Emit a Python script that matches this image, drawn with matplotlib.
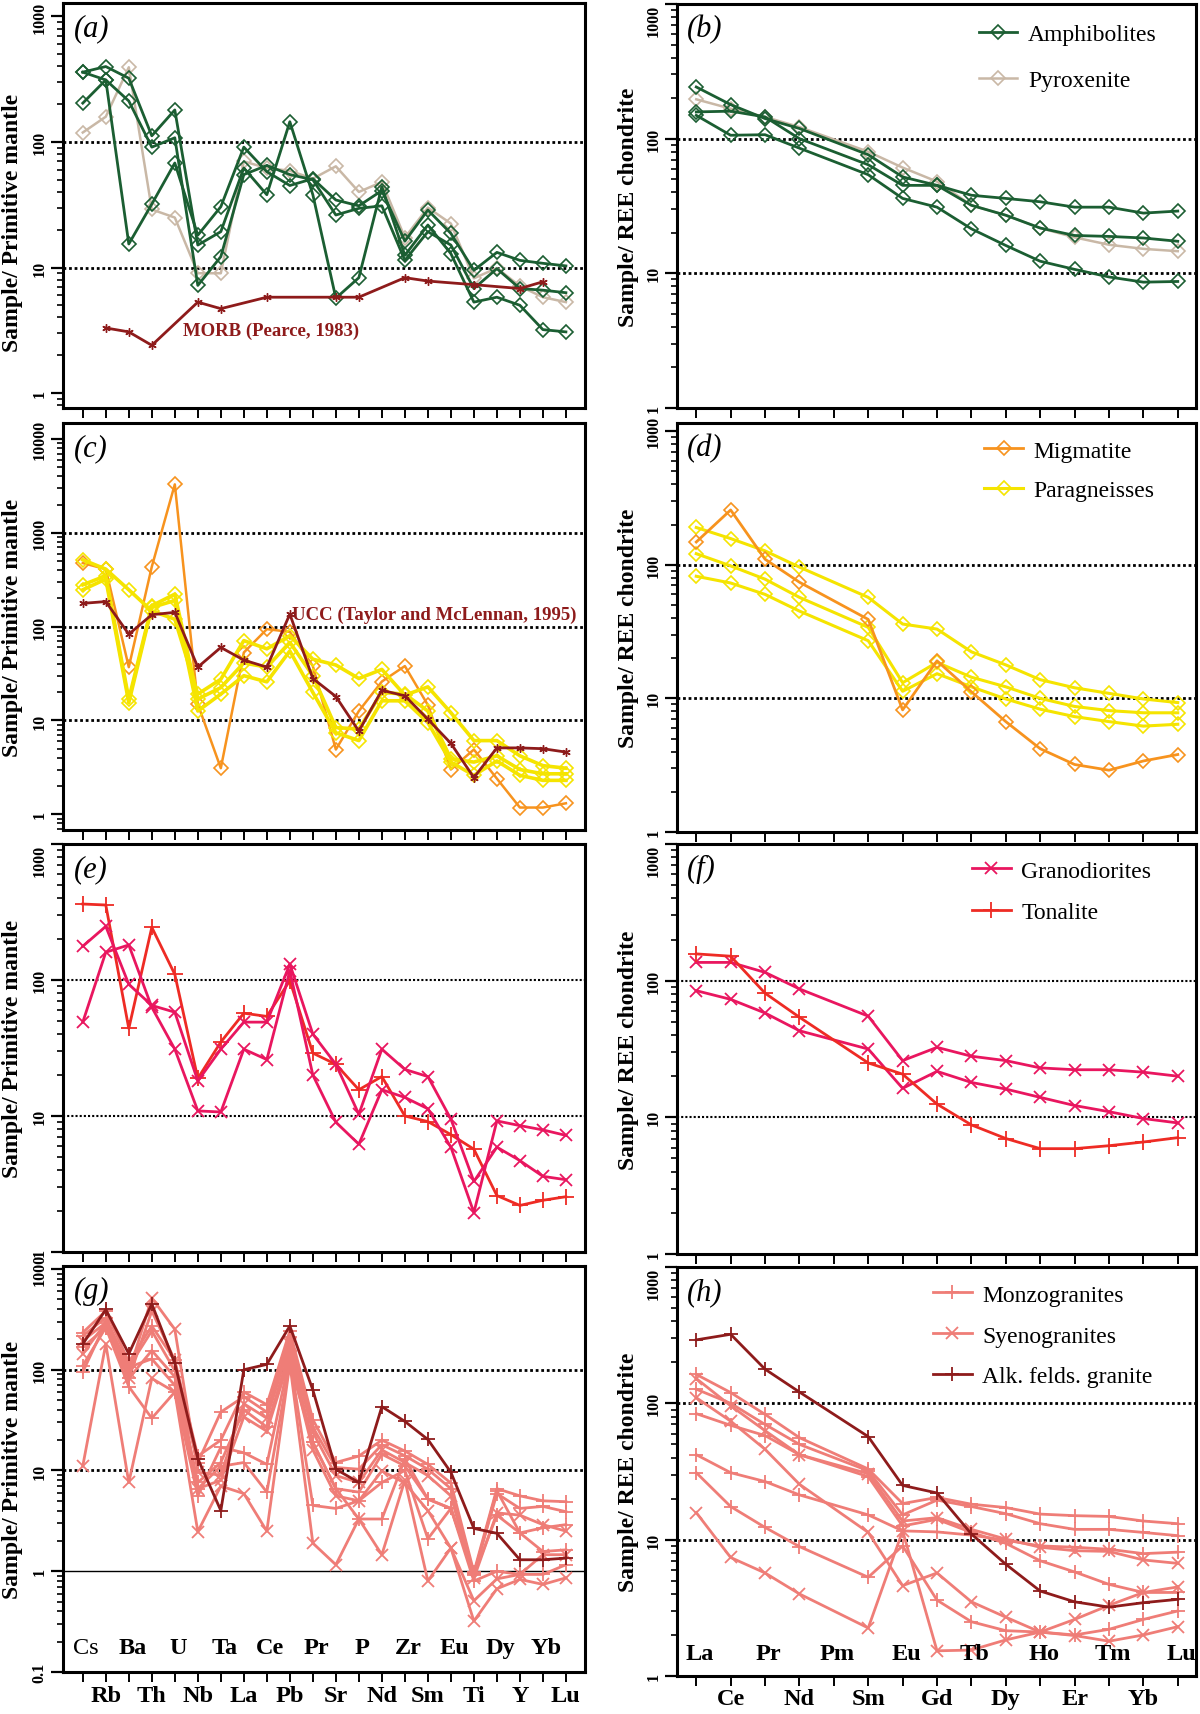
import numpy as np
import matplotlib
matplotlib.use('Agg')
import matplotlib.pyplot as plt
from matplotlib.ticker import FixedLocator, LogLocator, NullFormatter, FuncFormatter
from matplotlib.transforms import blended_transform_factory

plt.rcParams['font.family'] = ['Liberation Serif', 'DejaVu Serif']

nan = np.nan

# element order on the x axes
TE = ['Cs', 'Rb', 'Ba', 'Th', 'U', 'Nb', 'Ta', 'La', 'Ce', 'Pb', 'Pr', 'Sr', 'P',
      'Nd', 'Zr', 'Sm', 'Eu', 'Ti', 'Dy', 'Y', 'Yb', 'Lu']
REE = ['La', 'Ce', 'Pr', 'Nd', 'Pm', 'Sm', 'Eu', 'Gd', 'Tb', 'Dy', 'Ho', 'Er', 'Tm', 'Yb', 'Lu']

# (a) primitive mantle normalised - amphibolites / pyroxenite
amph_te = [
    [360, 399, 322, 112, 180, 15.1, 19.3, 62, 38, 145, 38, 5.7, 8.3, 44, 12.5, 21.8, 12.9, 5.3, 5.8, 5.0, 3.2, 3.07],
    [360, 312, 15.4, 32, 68, 18.1, 30.5, 91, 58, 45, 51, 34.5, 31, 41, 16.2, 28.7, 18.7, 9.5, 13.2, 11.4, 10.8, 10.3],
    [204, 312, 212, 91, 108, 7.2, 12.2, 55, 65, 55, 50, 26.2, 29.6, 31, 11.4, 19.3, 15.1, 6.8, 9.8, 6.8, 6.6, 6.3],
]
pyrox_te = [119, 159, 394, 29, 25, 9.0, 9.0, 70, 62, 59, 51, 64, 40, 48, 17.3, 30, 22.4, 8.2, 9.9, 7.1, 5.8, 5.3]
morb_te = [nan, 3.3, 3.07, 2.4, nan, 5.3, 4.7, nan, 5.8, nan, nan, 5.8, 5.8, nan, 8.3, 7.8, nan, 7.3, nan, 6.8, 7.7, nan]

# (b) chondrite normalised REE - amphibolites / pyroxenite
amph_ree = [
    [242, 179, 141, 119, nan, 76, 52, 45, 32, 27, 21.7, 19.1, 18.8, 18.3, 17.3],
    [158, 160, 145, 100, nan, 64, 45, 45, 38, 36, 34, 31, 31, 28, 29],
    [149, 106, 107, 85, nan, 54, 36, 31, 21.4, 16.1, 12.3, 10.7, 9.4, 8.6, 8.7],
]
pyrox_ree = [196, 167, 145, 122, nan, 80, 61, 48, 32, 27, 21.7, 18.5, 16.3, 15.2, 14.6]

# (c) migmatite / paragneisses / UCC
migm_te = [476, 410, 37, 435, 3282, 14.9, 3.1, 53, 94, 88, 38, 4.9, 12.6, 26, 38, 14.6, 3.0, 4.9, 2.4, 1.18, 1.18, 1.31]
para_te = [
    [516, 410, 247, 147, 120, 19.1, 27.5, 71, 58, 80, 45, 39, 28, 35, 18.6, 22.8, 12.1, 6.1, 6.1, 4.2, 3.3, 3.1],
    [279, 348, 16.9, 167, 222, 16.9, 22.4, 41, 37, 68, 30, 8.4, 8.1, 19.9, 19.1, 12.6, 3.9, 3.6, 4.2, 3.0, 2.7, 2.7],
    [247, 321, 15.5, 160, 190, 12.6, 19.1, 30, 25.8, 55, 19.9, 7.4, 6.1, 16.2, 16.2, 9.5, 3.6, 2.6, 3.7, 2.6, 2.3, 2.3],
]
ucc_te = [177, 185, 83, 134, 142, 37, 60, 44, 37, 136, 28, 18, 7.7, 21, 18.3, 10.3, 5.7, 2.46, 5.1, 5.1, 5.0, 4.6]

# (d)
migm_ree = [148, 257, 110, 74, nan, 39, 8.2, 19.1, 11.2, 6.7, 4.2, 3.2, 2.9, 3.4, 3.8]
para_ree = [
    [190, 157, 127, 96, nan, 57, 36, 33, 22.3, 17.8, 13.8, 12, 10.9, 9.9, 9.3],
    [121, 98, 78, 57, nan, 34, 13.1, 18.6, 14.4, 12.2, 10, 8.7, 8.1, 7.8, 7.8],
    [82, 73, 60, 45, nan, 27, 11.3, 15.3, 12.2, 9.9, 8.3, 7.3, 6.7, 6.2, 6.4],
]

# (e) granodiorites / tonalite
grano_te = [
    [177, 248, 93, 65, 58, 18.1, 31, 49, 49, 131, 40, 24, 10.3, 31, 22, 19.5, 9.5, 3.3, 5.9, 4.7, 3.6, 3.4],
    [49, 160, 181, 63, 31, 10.9, 10.7, 31, 26, 117, 20, 9.0, 6.2, 15.6, 13.7, 11.3, 5.9, 1.95, 9.2, 8.5, 7.9, 7.2],
]
tonal_te = [362, 356, 44, 244, 110, 18.9, 35, 57, 54, 99, 29, 24, 15.6, 19.5, 10, 9.1, 7.3, 5.7, 2.6, 2.2, 2.4, 2.55]

# (f)
grano_ree = [
    [136, 136, 115, 87, nan, 55, 26, 32.5, 28, 26, 23, 22.3, 22.3, 21.4, 20],
    [84.5, 73, 58, 43, nan, 31.6, 16.3, 21.7, 18, 16.1, 14, 12.2, 11, 9.8, 9.1],
]
tonal_ree = [157, 151, 81, 54, nan, 25, 20.7, 12.5, 8.8, 7.0, 5.9, 5.9, 6.2, 6.6, 7.1]

# (g) monzogranites / syenogranites / alkali-feldspar granite
monzo_te = [
    [234, 382, 119, 272, 124, 13.9, 20, 60, 45, 243, 32, 12, 13.9, 20, 15.6, 11.5, 7.5, 0.98, 6.6, 5.6, 5.0, 4.9],
    [217, 328, 106, 243, 98, 12, 38, 54, 38, 209, 27, 10.7, 10.3, 18, 14, 10.3, 6.6, 0.92, 5.9, 4.2, 4.4, 3.9],
    [167, 262, 82, 155, 85, 7.6, 12, 40, 27, 155, 19, 6.6, 6.1, 14.5, 11.1, 5.2, 4.2, 0.93, 3.6, 2.4, 2.7, 2.9],
    [110, 262, 68, 33, 60, 5.6, 17, 15, 11.5, 133, 4.5, 4.2, 5.0, 7.6, 10, 2.1, 4.2, 0.8, 1.0, 0.93, 0.93, 1.16],
    [95, 293, 106, 128, 70, 6.6, 11, 12, 6.1, 115, 19, 6.6, 3.3, 3.3, 13, 5.2, 4.2, 0.93, 6.3, 2.4, 1.57, 1.63],
]
syeno_te = [
    [194, 293, 94, 515, 252, 9.6, 9, 46, 33, 180, 24, 8.9, 7.6, 16, 12, 8.9, 5.6, 0.85, 3.8, 3.6, 2.9, 2.5],
    [144, 293, 82, 382, 124, 6.6, 8, 34, 24.5, 133, 16, 5.6, 5.0, 9.9, 7.5, 4.0, 1.7, 0.51, 0.84, 0.93, 1.46, 1.46],
    [11.1, 180, 7.6, 82, 60, 2.47, 7, 5.9, 2.5, 115, 1.9, 1.16, 3.3, 1.46, 8.0, 0.80, 1.7, 0.32, 0.67, 0.83, 0.74, 0.86],
]
alk_te = [180, 396, 144, 450, 116, 13.1, 4.0, 100, 113, 272, 63, 10.3, 7.6, 43, 30.7, 20.3, 9.6, 2.66, 2.38, 1.30, 1.30, 1.35]

# (h)
monzo_ree = [
    [163, 120, 83, 56, nan, 33, 18.4, 20.4, 18.2, 17.2, 15.4, 15, 14.8, 13.7, 13.1],
    [127, 100, 70, 50, nan, 32, 15.2, 19.5, 17.5, 15.5, 13.1, 11.9, 11.9, 11.3, 10.7],
    [84, 69, 58, 42, nan, 29, 12.6, 14.1, 11.3, 9.4, 7.0, 5.8, 4.7, 4.1, 4.1],
    [42, 31, 26.7, 21.3, nan, 15.2, 11.6, 11.4, 10.8, 9.9, 9.0, 8.8, 8.5, 7.9, 8.1],
    [31, 17.5, 12.3, 8.9, nan, 5.3, 9.0, 3.6, 2.5, 2.15, 2.1, 2.0, 2.2, 2.6, 3.0],
]
syeno_ree = [
    [152, 96, 63, 42, nan, 30.5, 13.7, 14.5, 11.9, 10.1, 8.8, 8.3, 8.2, 7.1, 6.7],
    [110, 74, 46, 25.5, nan, 11.3, 4.6, 5.7, 3.5, 2.7, 2.1, 2.6, 3.3, 4.1, 4.5],
    [15.8, 7.4, 5.7, 4.0, nan, 2.25, 11.6, 1.53, 1.55, 1.84, 2.1, 1.98, 1.8, 2.0, 2.3],
]
alk_ree = [292, 321, 178, 121, nan, 57, 25, 22, 11.0, 6.6, 4.2, 3.5, 3.2, 3.45, 3.65]

GREEN = '#1b5e32'
BEIGE = '#c9b8a6'
DARKRED = '#8e1b1b'
ORANGE = '#f7931e'
YELLOW = '#f5e400'
PINK = '#e9165f'
RED = '#ee2b24'
CORAL = '#ef7d77'

W, H = 1200, 1715
fig = plt.figure(figsize=(W / 100, H / 100), dpi=100)


def box(x0, y0, x1, y1):
    return [x0 / W, 1 - y1 / H, (x1 - x0) / W, (y1 - y0) / H]


def draw(ax, y, **kw):
    y = np.asarray(y, float)
    x = np.arange(len(y))
    m = ~np.isnan(y)
    return ax.plot(x[m], y[m], **kw)[0]


def setup(ax, nx, xlim, ylim, yticks, dotted, dot_lw=2.0, ylabel='', label_x=-0.077,
          label_y=0.5, top_down=False):
    ax.set_yscale('log')
    ax.set_xlim(*xlim)
    ax.set_ylim(*ylim)
    ax.set_xticks(range(nx))
    ax.set_xticklabels([])
    ax.yaxis.set_major_locator(FixedLocator(yticks))
    ax.yaxis.set_major_formatter(FuncFormatter(lambda v, p: '%g' % v))
    ax.yaxis.set_minor_locator(LogLocator(base=10, subs=np.arange(2, 10)))
    ax.yaxis.set_minor_formatter(NullFormatter())
    ax.tick_params(axis='x', which='major', direction='out', length=7.5, width=1.4)
    ax.tick_params(axis='y', which='major', direction='out', length=9, width=1.6,
                   labelsize=11.5, pad=2, labelrotation=90)
    ax.tick_params(axis='y', which='minor', direction='out', length=4.5, width=1.2)
    labs = ax.get_yticklabels()
    for lab in labs:
        lab.set_va('center')
        lab.set_fontweight('bold')
    if top_down:
        # top label pushed inside the axes height, as in the original
        labs[-1].set_va('top')
    for s in ax.spines.values():
        s.set_linewidth(2.2)
    for v in dotted:
        ax.axhline(v, color='black', ls=(0, (1, 1)), lw=dot_lw, zorder=1)
    ax.set_ylabel(ylabel, fontsize=17, fontweight='bold')
    ax.yaxis.set_label_coords(label_x, label_y)


def letter(ax, s):
    ax.text(0.02, 0.94, s, transform=ax.transAxes, fontsize=22, style='italic',
            ha='left', va='center')


LX = (-0.86, 21.83)
RX = (-0.56, 14.53)
PM = 'Sample/ Primitive mantle'
CH = 'Sample/ REE chondrite'
RLX = -0.073

axa = fig.add_axes(box(63, 4, 585, 409))
axb = fig.add_axes(box(677, 5, 1196, 409))
axc = fig.add_axes(box(63, 424, 585, 831))
axd = fig.add_axes(box(677, 424, 1196, 833))
axe = fig.add_axes(box(63, 845, 585, 1253))
axf = fig.add_axes(box(677, 845, 1196, 1255))
axg = fig.add_axes(box(63, 1267, 585, 1673))
axh = fig.add_axes(box(677, 1268, 1196, 1677))

dia = dict(marker='D', ms=7.5, mfc='none', mew=1.2)
leg = dict(loc='upper left', frameon=False, fontsize=17, handlelength=1.65,
           handletextpad=0.45, borderpad=0, borderaxespad=0, numpoints=1)

# ---- (a)
setup(axa, 22, LX, (0.76, 1280), [1, 10, 100, 1000], [10, 100], ylabel=PM, label_y=0.46)
draw(axa, pyrox_te, color=BEIGE, lw=1.8, mec=BEIGE, **dia)
for s in amph_te:
    draw(axa, s, color=GREEN, lw=2.0, mec=GREEN, **dia)
draw(axa, morb_te, color=DARKRED, lw=2.0, marker=(6, 2, 0), ms=6, mew=1.0)
axa.text(4.36, 3.14, 'MORB (Pearce, 1983)', color=DARKRED, fontsize=13.5,
         fontweight='bold', ha='left', va='center')
letter(axa, '(a)')

# ---- (b)
setup(axb, 15, RX, (1, 1000), [1, 10, 100, 1000], [10, 100], ylabel=CH, label_x=RLX,
      top_down=True)
hp = draw(axb, pyrox_ree, color=BEIGE, lw=1.8, mec=BEIGE, **dia)
for s in amph_ree:
    hg = draw(axb, s, color=GREEN, lw=2.0, mec=GREEN, **dia)
axb.legend([hg, hp], ['Amphibolites', 'Pyroxenite'], bbox_to_anchor=(0.581, 0.952),
           labelspacing=1.05, **leg)
letter(axb, '(b)')

# ---- (c)
setup(axc, 22, LX, (0.68, 14800), [1, 10, 100, 1000, 10000], [10, 100, 1000], ylabel=PM)
draw(axc, migm_te, color=ORANGE, lw=1.8, mec=ORANGE, **dia)
for s in para_te:
    draw(axc, s, color=YELLOW, lw=2.6, mec=YELLOW, **dia)
draw(axc, ucc_te, color=DARKRED, lw=2.0, marker=(6, 2, 0), ms=6, mew=1.0)
axc.text(9.1, 136, 'UCC (Taylor and McLennan, 1995)', color=DARKRED, fontsize=13.5,
         fontweight='bold', ha='left', va='center')
letter(axc, '(c)')

# ---- (d)
setup(axd, 15, RX, (1, 1150), [1, 10, 100, 1000], [10, 100], ylabel=CH, label_x=RLX)
for s in para_ree:
    hy = draw(axd, s, color=YELLOW, lw=2.2, mec=YELLOW, **dia)
ho = draw(axd, migm_ree, color=ORANGE, lw=2.0, mec=ORANGE, **dia)
axd.legend([ho, hy], ['Migmatite', 'Paragneisses'], bbox_to_anchor=(0.592, 0.958),
           labelspacing=0.75, **leg)
letter(axd, '(d)')

# ---- (e)
setup(axe, 22, LX, (1, 1000), [1, 10, 100, 1000], [10, 100], dot_lw=1.5, ylabel=PM,
      top_down=True)
draw(axe, tonal_te, color=RED, lw=2.0, marker='+', ms=11, mew=1.3)
for s in grano_te:
    draw(axe, s, color=PINK, lw=2.0, marker='x', ms=9, mew=1.3)
letter(axe, '(e)')

# ---- (f)
setup(axf, 15, RX, (1, 1000), [1, 10, 100, 1000], [10, 100], dot_lw=1.5, ylabel=CH,
      label_x=RLX, top_down=True)
for s in grano_ree:
    hgr = draw(axf, s, color=PINK, lw=2.0, marker='x', ms=9, mew=1.3)
hto = draw(axf, tonal_ree, color=RED, lw=2.0, marker='+', ms=11, mew=1.3)
axf.legend([hgr, hto], ['Granodiorites', 'Tonalite'], bbox_to_anchor=(0.568, 0.961),
           labelspacing=0.85, **leg)
letter(axf, '(f)')

# ---- (g)
setup(axg, 22, LX, (0.1, 1070), [0.1, 1, 10, 100, 1000], [10, 100], ylabel=PM)
axg.axhline(1, color='black', lw=1.0, zorder=1)
for s in monzo_te:
    draw(axg, s, color=CORAL, lw=2.0, marker='+', ms=10, mew=1.3)
for s in syeno_te:
    draw(axg, s, color=CORAL, lw=2.0, marker='x', ms=8.5, mew=1.3)
draw(axg, alk_te, color=DARKRED, lw=2.0, marker='+', ms=10, mew=1.3)
tg = blended_transform_factory(axg.transData, axg.transAxes)
for i, name in enumerate(TE):
    if i % 2 == 0:
        axg.text(i + 0.15, 0.061, name, transform=tg, ha='center', va='center', fontsize=17.5,
                 fontweight='normal' if name == 'Cs' else 'bold')
    else:
        axg.text(i, -0.059, name, transform=tg, ha='center', va='center', fontsize=17.5,
                 fontweight='bold', clip_on=False)
letter(axg, '(g)')

# ---- (h)
setup(axh, 15, RX, (1, 1000), [1, 10, 100, 1000], [10, 100], ylabel=CH, label_x=RLX,
      top_down=True)
for s in monzo_ree:
    hm = draw(axh, s, color=CORAL, lw=2.0, marker='+', ms=10, mew=1.3)
for s in syeno_ree:
    hs = draw(axh, s, color=CORAL, lw=2.0, marker='x', ms=8.5, mew=1.3)
ha_ = draw(axh, alk_ree, color=DARKRED, lw=2.0, marker='+', ms=10, mew=1.3)
axh.legend([hm, hs, ha_], ['Monzogranites', 'Syenogranites', 'Alk. felds. granite'],
           bbox_to_anchor=(0.493, 0.958), labelspacing=0.82, **leg)
th = blended_transform_factory(axh.transData, axh.transAxes)
for i, name in enumerate(REE):
    if i % 2 == 0:
        axh.text(i + 0.1, 0.054, name, transform=th, ha='center', va='center',
                 fontsize=17.5, fontweight='bold')
    else:
        axh.text(i, -0.056, name, transform=th, ha='center', va='center', fontsize=17.5,
                 fontweight='bold', clip_on=False)
letter(axh, '(h)')

fig.savefig('out.png', dpi=100)
